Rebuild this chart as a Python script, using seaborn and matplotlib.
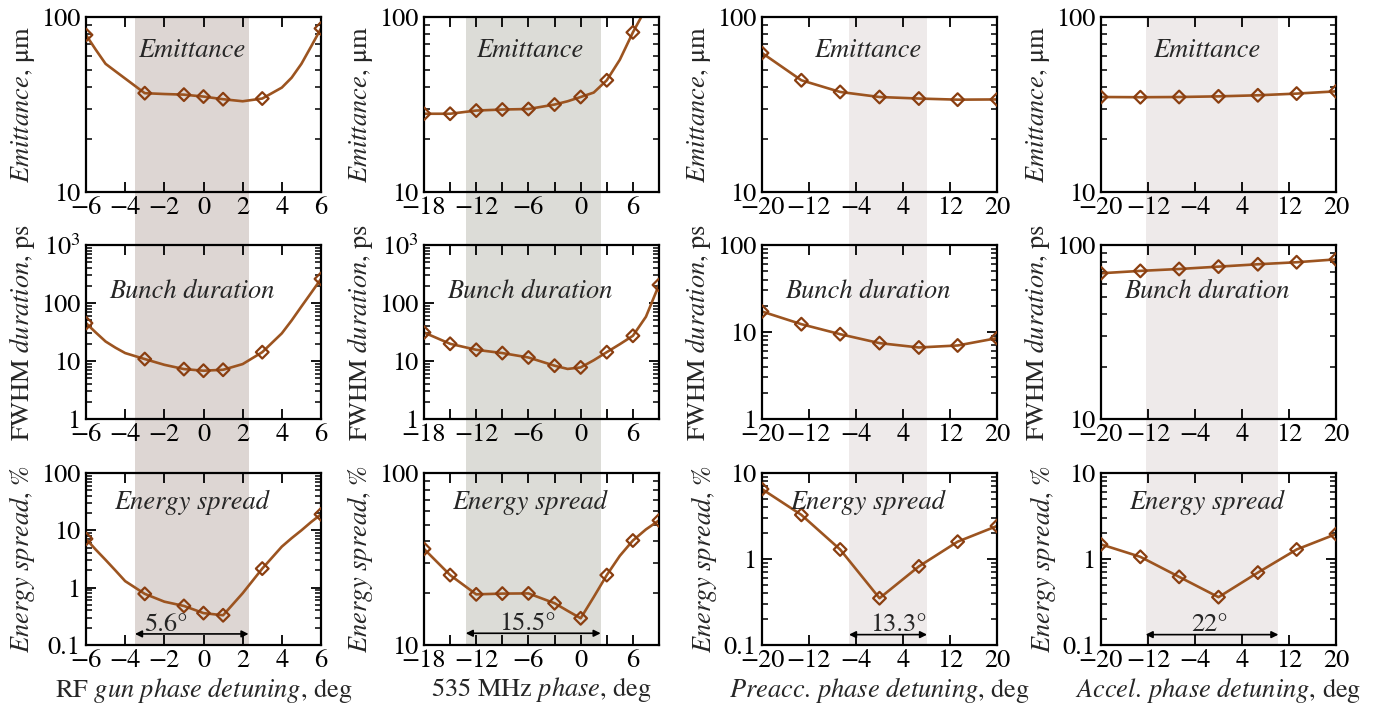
import matplotlib

matplotlib.use("Agg")
import matplotlib.pyplot as plt  # noqa: E402
import matplotlib.ticker as mticker  # noqa: E402
from matplotlib.patches import Rectangle  # noqa: E402
from matplotlib.transforms import blended_transform_factory  # noqa: E402
import seaborn as sns  # noqa: E402

import pandas as pd

# --- column 1: RF gun phase detuning ---
GUN_X = [-6, -5.5, -5, -4.5, -4, -3, -2, -1, 0, 1, 2, 3, 4, 4.5, 5, 5.5, 6]
GUN_MARK_X = [-6, -3, -1, 0, 1, 3, 6]
GUN_EMIT = [79, 65, 54, 49, 44.5, 36.7, 36.3, 36.0, 35.1, 33.9, 33.0, 34.2,
            39.5, 45, 54, 68, 86]
GUN_DUR = [45, 31, 21.7, 17, 13.7, 10.8, 8.6, 7.26, 6.8, 7.06, 8.85, 14.2,
           30, 50, 87, 150, 260]
GUN_ESPR = [7.1, 4.6, 3.05, 2.0, 1.3, 0.78, 0.57, 0.48, 0.36, 0.33, 0.8, 2.15,
            5.2, 7.3, 10, 14, 19]

# --- column 2: 535 MHz phase ---
BUN_X = [-18, -15, -12, -9, -6, -3, -1.5, 0, 1.5, 3, 4.5, 6, 7.5, 9]
BUN_MARK_X = [-18, -15, -12, -9, -6, -3, 0, 3, 6, 9]
BUN_EMIT = [28.0, 28.0, 29.2, 29.6, 29.8, 31.6, 33, 34.9, 37, 43.5, 57, 81.7, 112, 150]
BUN_DUR = [31, 19.8, 15.6, 13.7, 11.5, 8.3, 7.3, 7.75, 10.3, 14.2, 19.5, 27.2, 58, 205]
BUN_ESPR = [36.2, 25.5, 19.7, 19.9, 19.95, 17.5, 15.8, 14.3, 19, 25.5, 33, 40.5, 47, 53]

# --- column 3: preaccelerator phase detuning ---
PRE_X = [-20, -13.3, -6.7, 0, 6.7, 13.3, 20]
PRE_EMIT = [62.3, 43.5, 37.3, 34.9, 34.2, 33.7, 33.8]
PRE_DUR = [17.2, 12.3, 9.44, 7.45, 6.64, 7.0, 8.5]
PRE_ESPR = [6.5, 3.26, 1.29, 0.35, 0.82, 1.59, 2.42]

# --- column 4: accelerator phase detuning ---
ACC_X = [-20, -13.3, -6.7, 0, 6.7, 13.3, 20]
ACC_EMIT = [34.9, 34.8, 34.9, 35.2, 35.7, 36.5, 37.6]
ACC_DUR = [68.8, 71, 72.8, 75.1, 77.5, 79.6, 82.7]
ACC_ESPR = [1.48, 1.06, 0.62, 0.36, 0.695, 1.29, 1.95]

# acceptance windows and their widths
WINDOWS = [(-3.5, 2.3), (-13.2, 2.3), (-5.2, 8.1), (-12.4, 10.2)]
WINDOW_LABELS = ["5.6°", "15.5°", "13.3°", "22°"]

XLABELS = [
    r"RF $\mathit{gun\ phase\ detuning}$, deg",
    r"535 MHz $\mathit{phase}$, deg",
    r"$\mathit{Preacc.\,phase\ detuning}$, deg",
    r"$\mathit{Accel.\,phase\ detuning}$, deg",
]
YLABELS = [
    r"$\mathit{Emittance}$, μm",
    r"FWHM $\mathit{duration}$, ps",
    r"$\mathit{Energy\ spread}$, %",
]
TITLES = ["Emittance", "Bunch duration", "Energy spread"]

LINE_C = "#9c5420"
MARK_C = "#8a3e10"
SHADES = ["#ddd6d3", "#dcdcd7", "#eeeaea", "#eeeaea"]


def minus(v):
    return f"{v:g}".replace("-", "\u2212")


def ylab(v, pos):
    if v >= 999:
        return r"$10^3$"
    return f"{v:g}"


sns.set_theme(style="ticks")
plt.rcParams.update({
    "font.family": ["STIXGeneral", "DejaVu Serif"],
    "mathtext.fontset": "stix",
    "font.size": 19,
    "axes.linewidth": 1.6,
    "axes.edgecolor": "black",
    "xtick.color": "black",
    "ytick.color": "black",
})

columns = [
    dict(x=GUN_X, mark=GUN_MARK_X, ys=[GUN_EMIT, GUN_DUR, GUN_ESPR],
         xlim=(-6, 6), xticks=list(range(-6, 7, 2)), labstep=2,
         ylims=[(10, 100), (1, 1000), (0.1, 100)],
         arrow_y=0.156, text_x=-1.9, text_y=0.178),
    dict(x=BUN_X, mark=BUN_MARK_X, ys=[BUN_EMIT, BUN_DUR, BUN_ESPR],
         xlim=(-18, 9), xticks=list(range(-18, 10, 3)), labstep=6,
         ylims=[(10, 100), (1, 1000), (10, 100)],
         arrow_y=11.7, text_x=-6.1, text_y=12.2),
    dict(x=PRE_X, mark=PRE_X, ys=[PRE_EMIT, PRE_DUR, PRE_ESPR],
         xlim=(-20, 20), xticks=list(range(-20, 21, 8)), labstep=8,
         ylims=[(10, 100), (1, 100), (0.1, 10)],
         arrow_y=0.132, text_x=3.3, text_y=0.145),
    dict(x=ACC_X, mark=ACC_X, ys=[ACC_EMIT, ACC_DUR, ACC_ESPR],
         xlim=(-20, 20), xticks=list(range(-20, 21, 8)), labstep=8,
         ylims=[(10, 100), (10, 100), (0.1, 10)],
         arrow_y=0.132, text_x=-1.5, text_y=0.145),
]

fig = plt.figure(figsize=(13.77, 7.11), dpi=100)
W, H = 1377, 711
lefts = [86, 424, 762, 1101]
rows_px = [(17, 192), (245, 419), (473, 645)]
title_y = [0.81, 0.73, 0.83]

for c, col in enumerate(columns):
    axes = []
    x_start = col["xlim"][0]
    for r in range(3):
        top, bot = rows_px[r]
        ax = fig.add_axes([lefts[c] / W, 1 - bot / H, 235 / W, (bot - top) / H])
        ax.set_facecolor("none")
        axes.append(ax)

        df = pd.DataFrame({"x": col["x"], "y": col["ys"][r]})
        marks = df[df["x"].isin(col["mark"])]
        ax.set_yscale("log")
        sns.lineplot(data=df, x="x", y="y", ax=ax, color=LINE_C, lw=1.9,
                     estimator=None, sort=True)
        sns.scatterplot(data=marks, x="x", y="y", ax=ax, marker="D", s=42,
                        facecolor="none", edgecolor=MARK_C, linewidth=1.6,
                        zorder=3)

        ax.set_xlim(*col["xlim"])
        ax.set_ylim(*col["ylims"][r])
        ax.set_xticks(col["xticks"])
        ax.set_xticklabels([minus(t) if (t - x_start) % col["labstep"] == 0 else ""
                            for t in col["xticks"]])
        ax.yaxis.set_major_locator(mticker.LogLocator(base=10))
        ax.yaxis.set_minor_locator(mticker.LogLocator(base=10, subs=range(2, 10)))
        ax.yaxis.set_major_formatter(mticker.FuncFormatter(ylab))
        ax.yaxis.set_minor_formatter(mticker.NullFormatter())
        ax.tick_params(which="both", direction="in", top=True, right=True,
                       labelsize=19)
        ax.tick_params(axis="x", pad=3)
        ax.tick_params(axis="y", pad=4)
        ax.tick_params(which="major", length=7, width=1.3)
        ax.tick_params(which="minor", length=4, width=1.1)

        ax.set_ylabel(YLABELS[r], fontsize=19, labelpad=3)
        ax.set_xlabel(XLABELS[c] if r == 2 else "", fontsize=19, labelpad=1)
        ax.text(0.45, title_y[r], TITLES[r], transform=ax.transAxes,
                ha="center", va="center", fontsize=19, style="italic")

    # acceptance window shading across the whole column
    x0, x1 = WINDOWS[c]
    y_bot = axes[2].get_position().y0
    y_top = axes[0].get_position().y1
    rect = Rectangle((x0, y_bot), x1 - x0, y_top - y_bot,
                     transform=blended_transform_factory(axes[2].transData, fig.transFigure),
                     facecolor=SHADES[c], edgecolor="none", zorder=-5)
    fig.add_artist(rect)

    ax = axes[2]
    ax.annotate("", xy=(x0, col["arrow_y"]), xytext=(x1, col["arrow_y"]),
                arrowprops=dict(arrowstyle="<|-|>", color="black", lw=1.2,
                                mutation_scale=10, shrinkA=0, shrinkB=0))
    ax.text(col["text_x"], col["text_y"], WINDOW_LABELS[c], ha="center",
            va="baseline", fontsize=19)

fig.savefig("out.png", dpi=100, facecolor="white")
